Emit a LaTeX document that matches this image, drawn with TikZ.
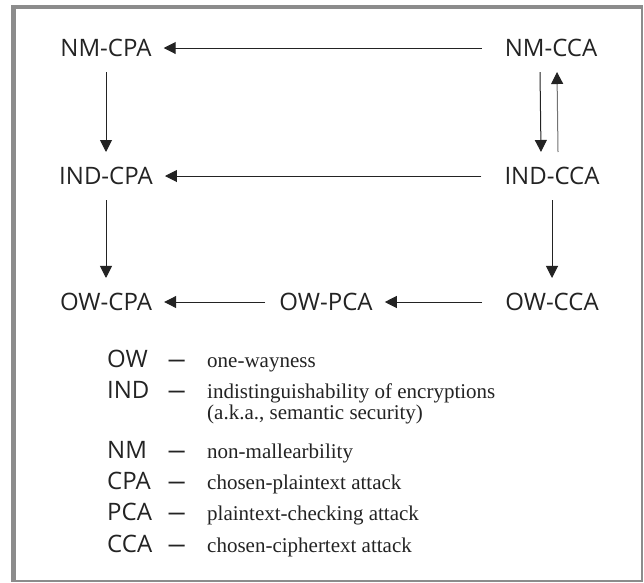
\documentclass[tikz,border=0pt]{standalone}
\usepackage{fontspec}
\usetikzlibrary{arrows.meta}
\setmainfont{Liberation Serif}
\newfontfamily\notionfont{Open Sans}
\newfontfamily\dashfont[FakeStretch=1.6]{Open Sans}
\definecolor{framegray}{RGB}{140,140,140}
\definecolor{inkgray}{RGB}{35,35,35}

\begin{document}
\begin{tikzpicture}[x=1pt,y=-1pt,
  notion/.style={font=\notionfont\fontsize{24}{28}\selectfont, text=inkgray, inner xsep=12pt, inner ysep=15pt},
  implies/.style={draw=inkgray, line width=1pt, -{Triangle[width=12pt,length=12pt,color=inkgray]}},
  abbr/.style={anchor=base west, inner sep=0pt, font=\notionfont\fontsize{24}{28}\selectfont, text=inkgray},
  dashmark/.style={anchor=base west, inner sep=0pt, font=\dashfont\fontsize{24}{28}\selectfont, text=inkgray},
  meaning/.style={anchor=base west, inner sep=0pt, font=\fontsize{21}{24}\selectfont, text=inkgray}]
% frame
\fill [framegray] (11,5) rectangle (643,582);
\fill [white] (16,9) rectangle (641,580);
\useasboundingbox (0,0) rectangle (644,582);
% security notions
\node [notion] (nmcpa) at (106,48) {NM-CPA};
\node [notion] (nmcca) at (551,48) {NM-CCA};
\node [notion] (indcpa) at (106,176) {IND-CPA};
\node [notion] (indcca) at (552,176) {IND-CCA};
\node [notion] (owcpa) at (106,302) {OW-CPA};
\node [notion] (owpca) at (326,302) {OW-PCA};
\node [notion] (owcca) at (552,302) {OW-CCA};
% implications
\draw [implies, shorten <=11pt] (nmcca) -- (nmcpa);
\draw [implies, shorten <=11pt] (indcca) -- (indcpa);
\draw [implies] (nmcpa) -- (indcpa);
\draw [implies] (indcpa) -- (owcpa);
\draw [implies] ([xshift=-11pt]nmcca.south) -- ([xshift=-11pt]indcca.north);
\draw [implies, draw=black!55] ([xshift=6pt]indcca.north) -- ([xshift=6pt]nmcca.south);
\draw [implies] (indcca) -- (owcca);
\draw [implies, shorten <=11pt] (owcca) -- (owpca);
\draw [implies, shorten <=2pt] (owpca) -- (owcpa);
% legend
\foreach \key/\abbrtext/\meaningtext/\rowy in {ow/OW/{one-wayness}/367, ind/IND/{indistinguishability of encryptions}/398, nm/NM/{non-mallearbility}/458, cpa/CPA/{chosen-plaintext attack}/489, pca/PCA/{plaintext-checking attack}/520, cca/CCA/{chosen-ciphertext attack}/552}
{
  \node [abbr] (abbr-\key) at (107,\rowy) {\abbrtext};
  \node [dashmark] (dash-\key) at (167,\rowy) {–};
  \node [meaning] (mean-\key) at (207,\rowy) {\meaningtext};
}
\node [meaning] (mean-aka) at (207,419) {(a.k.a., semantic security)};
\end{tikzpicture}
\end{document}
